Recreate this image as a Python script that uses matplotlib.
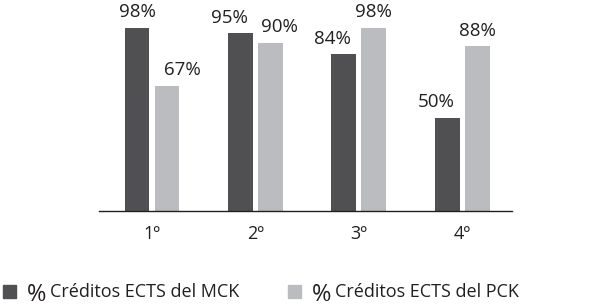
import matplotlib
matplotlib.use("Agg")
import matplotlib.pyplot as plt
from matplotlib.patches import Rectangle

categories = ["1º", "2º", "3º", "4º"]
mck = [98, 95, 84, 50]
pck = [67, 90, 98, 88]
series_names = ["Créditos ECTS del MCK", "Créditos ECTS del PCK"]
colors = ["#505052", "#bbbcbf"]
# horizontal nudges (pixels) of the value labels, as in the reference
mck_dx = [0, -11, -11, -11]
pck_dx = [15, 9, 0, 0]

plt.rcParams['font.family'] = ['Open Sans', 'DejaVu Sans']

fig = plt.figure(figsize=(6, 3.07), dpi=100)
ax = fig.add_axes([0.165, 0.3127, 0.688, 0.609])

x = list(range(len(categories)))
w = 0.24
off = 0.145
b1 = ax.bar([i - off for i in x], mck, width=w, color=colors[0])
b2 = ax.bar([i + off for i in x], pck, width=w, color=colors[1])

for bars, vals, dxs in ((b1, mck, mck_dx), (b2, pck, pck_dx)):
    for r, v, dx in zip(bars, vals, dxs):
        ax.annotate(f"{v}%", (r.get_x() + r.get_width() / 2, v),
                    xytext=(dx * 0.72, 7.5), textcoords="offset points",
                    ha="center", va="baseline", fontsize=13.5, color="#231f20",
                    annotation_clip=False)

ax.set_xlim(-0.512, 3.478)
ax.set_ylim(0, 100)
ax.set_xticks(x)
ax.set_xticklabels(categories, fontsize=13, color="#231f20")
ax.tick_params(axis='x', length=0, pad=10)
ax.set_yticks([])
for s in ("top", "right", "left"):
    ax.spines[s].set_visible(False)
ax.spines["bottom"].set_color("#231f20")
ax.spines["bottom"].set_linewidth(1.0)

# legend
W, H = 600, 307
def fx(px):
    return px / W
def fy(py):
    return 1 - py / H

items = [(3, colors[0], series_names[0]), (288, colors[1], series_names[1])]
for px, c, name in items:
    fig.patches.append(Rectangle((fx(px), fy(298)), 13 / W, 13 / H,
                                 transform=fig.transFigure, color=c))
    fig.text(fx(px + 24), fy(301), "%", fontsize=17, color="#231f20",
             ha="left", va="baseline")
    fig.text(fx(px + 47), fy(297), name, fontsize=13, color="#231f20",
             ha="left", va="baseline")

fig.savefig("out.png", dpi=100)
